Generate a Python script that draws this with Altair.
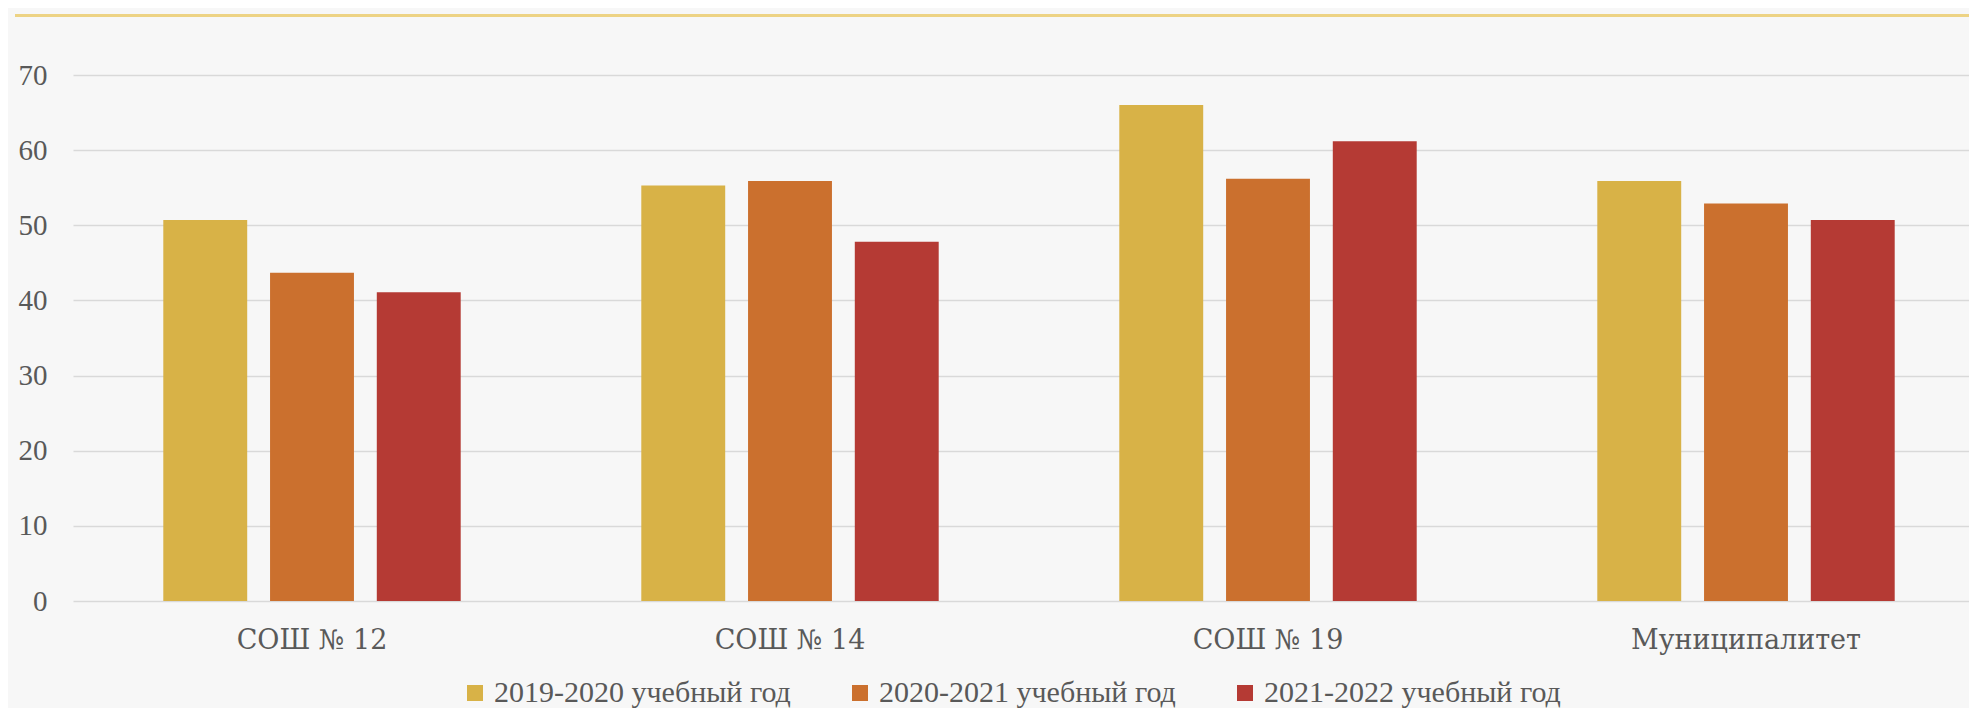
import altair as alt
import pandas as pd

categories = ["СОШ № 12", "СОШ № 14", "СОШ № 19", "Муниципалитет"]
series = ["2019-2020 учебный год", "2020-2021 учебный год", "2021-2022 учебный год"]
values_2019 = [50.7, 55.3, 66.0, 55.9]
values_2020 = [43.7, 55.9, 56.2, 52.9]
values_2021 = [41.1, 47.8, 61.2, 50.7]
colors = ["#D8B247", "#CB702E", "#B53A34"]
y_ticks = [0, 10, 20, 30, 40, 50, 60, 70]

rows = []
for s, vals in zip(series, [values_2019, values_2020, values_2021]):
    for c, v in zip(categories, vals):
        rows.append({"cat": c, "series": s, "value": v})
df = pd.DataFrame(rows)

W = 1896
H = 526
FONT = "Liberation Serif"
TXT = "#595959"

bars = alt.Chart(df).mark_bar().encode(
    x=alt.X("cat:N", sort=categories, title=None,
            scale=alt.Scale(paddingInner=0.33, paddingOuter=0.165, range=[0, 1912]),
            axis=alt.Axis(labelAngle=0, ticks=False, domain=False, grid=False,
                          labelFont="DejaVu Serif", labelFontSize=27, labelColor=TXT,
                          labelPadding=26, labelLimit=500)),
    xOffset=alt.XOffset("series:N", sort=series,
                        scale=alt.Scale(paddingInner=0.214, paddingOuter=0.107)),
    y=alt.Y("value:Q", title=None,
            scale=alt.Scale(domain=[0, 70], nice=False),
            axis=alt.Axis(values=y_ticks, ticks=False, domain=False, grid=True,
                          gridColor="#D9D9D9", gridWidth=1.5,
                          labelFont=FONT, labelFontSize=29, labelColor=TXT,
                          labelPadding=26)),
    color=alt.Color("series:N", sort=series,
                    scale=alt.Scale(domain=series, range=colors),
                    legend=alt.Legend(title=None, orient="none", direction="horizontal",
                                      legendX=387, legendY=603,
                                      symbolType="square", symbolSize=256,
                                      symbolStrokeWidth=0,
                                      labelFont=FONT, labelFontSize=30, labelColor=TXT,
                                      labelOffset=4, columnPadding=54,
                                      labelLimit=500)),
)

top_line = alt.Chart(pd.DataFrame({"k": [0]})).mark_rule(
    color="#EDD384", strokeWidth=3
).encode(x=alt.value(-58), x2=alt.value(W), y=alt.value(-59.5))

chart = alt.layer(bars, top_line).properties(
    width=W, height=H,
    background="#F7F7F7",
    padding={"left": 65, "top": 67, "right": 0, "bottom": 107},
    autosize=alt.AutoSizeParams(type="none"),
).configure_view(stroke=None)

chart.save("out.html", embed_options={"renderer": "svg", "actions": False})
